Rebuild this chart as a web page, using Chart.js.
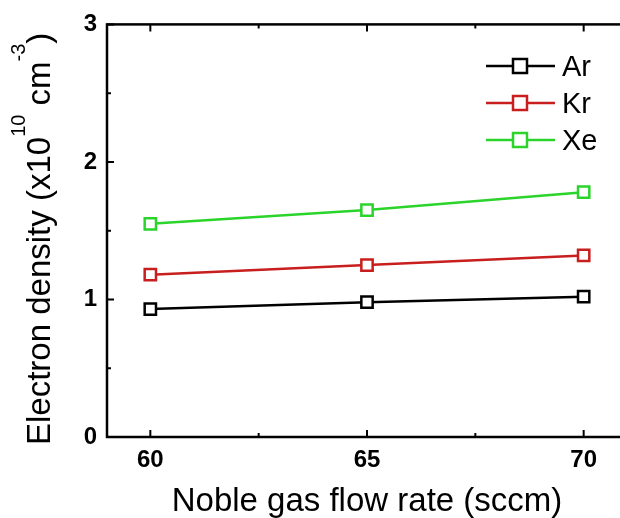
<!DOCTYPE html>
<html>
<head>
<meta charset="utf-8">
<script src="https://cdn.jsdelivr.net/npm/chart.js@4.4.0/dist/chart.umd.min.js"></script>
<style>
    html, body { margin: 0; padding: 0; background: #fff; overflow: hidden; }
    #wrap { width: 640px; height: 518px; }
</style>
</head>
<body>
<div id="wrap"><canvas id="densityChart" width="640" height="518"></canvas></div>
<script>
// Electron density vs noble gas flow rate
const flowRates = [60, 65, 70];
const gasNames = ['Ar', 'Kr', 'Xe'];
const arDensity = [0.93, 0.98, 1.02];
const krDensity = [1.18, 1.25, 1.32];
const xeDensity = [1.55, 1.65, 1.78];
const xTicks = [60, 65, 70];
const xMinorTicks = [62.5, 67.5];
const yTicks = [0, 1, 2, 3];
const yMinorTicks = [0.5, 1.5, 2.5];

const gasColors = ['#000000', '#c81e1e', '#2ad42a'];
const FONT = '"Liberation Sans", Arial, sans-serif';

function toPoints(values) {
    return flowRates.map(function(x, i) { return {x: x, y: values[i]}; });
}

// box round the plot with inward ticks on all four sides
const framePlugin = {
    id: 'frame',
    afterDraw: function(chart) {
        const ctx = chart.ctx;
        const a = chart.chartArea;
        const xs = chart.scales.x;
        const ys = chart.scales.y;
        ctx.save();
        ctx.strokeStyle = '#000';
        ctx.lineWidth = 2.5;
        ctx.strokeRect(a.left, a.top, a.right - a.left, a.bottom - a.top);
        ctx.lineWidth = 2;
        ctx.beginPath();
        function xTick(v, len) {
            const px = xs.getPixelForValue(v);
            ctx.moveTo(px, a.bottom); ctx.lineTo(px, a.bottom - len);
            ctx.moveTo(px, a.top); ctx.lineTo(px, a.top + len);
        }
        function yTick(v, len) {
            const py = ys.getPixelForValue(v);
            ctx.moveTo(a.left, py); ctx.lineTo(a.left + len, py);
            ctx.moveTo(a.right, py); ctx.lineTo(a.right - len, py);
        }
        xTicks.forEach(function(v) { xTick(v, 7); });
        xMinorTicks.forEach(function(v) { xTick(v, 4); });
        yTicks.forEach(function(v) { yTick(v, 7); });
        yMinorTicks.forEach(function(v) { yTick(v, 4); });
        ctx.stroke();
        ctx.restore();
    }
};

// axis titles (y title needs real superscripts)
const titlePlugin = {
    id: 'axisTitles',
    afterDraw: function(chart) {
        const ctx = chart.ctx;
        const a = chart.chartArea;
        ctx.save();
        ctx.fillStyle = '#000';
        ctx.textBaseline = 'alphabetic';

        ctx.font = '33px ' + FONT;
        ctx.textAlign = 'center';
        ctx.fillText('Noble gas flow rate (sccm)', (a.left + a.right) / 2, 511);

        ctx.translate(50, 445);
        ctx.rotate(-Math.PI / 2);
        ctx.textAlign = 'left';
        const parts = [
            ['Electron density (x10', 33, 0],
            ['10', 20, -25],
            [' cm', 33, 0],
            ['-3', 20, -25],
            [')', 33, 0]
        ];
        let pos = 0;
        parts.forEach(function(p) {
            ctx.font = p[1] + 'px ' + FONT;
            ctx.fillText(p[0], pos, p[2]);
            pos += ctx.measureText(p[0]).width;
        });
        ctx.restore();
    }
};

// legend drawn as line + hollow square + name
const legendPlugin = {
    id: 'lineLegend',
    afterDraw: function(chart) {
        const ctx = chart.ctx;
        ctx.save();
        chart.data.datasets.forEach(function(ds, i) {
            const cy = 66 + i * 37;
            ctx.strokeStyle = ds.borderColor;
            ctx.lineWidth = 2.5;
            ctx.beginPath();
            ctx.moveTo(486, cy); ctx.lineTo(555, cy);
            ctx.stroke();
            ctx.fillStyle = '#fff';
            ctx.fillRect(513, cy - 7, 14, 14);
            ctx.strokeRect(513, cy - 7, 14, 14);
            ctx.fillStyle = '#000';
            ctx.font = '29px ' + FONT;
            ctx.textAlign = 'left';
            ctx.textBaseline = 'alphabetic';
            ctx.fillText(ds.label, 562, cy + 10);
        });
        ctx.restore();
    }
};

const seriesValues = [arDensity, krDensity, xeDensity];

new Chart(document.getElementById('densityChart').getContext('2d'), {
    type: 'line',
    data: {
        datasets: gasNames.map(function(name, i) {
            return {
                label: name,
                data: toPoints(seriesValues[i]),
                borderColor: gasColors[i],
                borderWidth: 2.5,
                pointStyle: 'rect',
                pointRadius: 8,
                pointBorderWidth: 2.5,
                pointBorderColor: gasColors[i],
                pointBackgroundColor: '#fff',
                tension: 0
            };
        })
    },
    options: {
        responsive: false,
        animation: false,
        layout: {
            padding: { top: 24, right: 13, left: 0, bottom: 0 }
        },
        plugins: {
            legend: { display: false },
            tooltip: { enabled: false }
        },
        scales: {
            x: {
                type: 'linear',
                min: 59,
                max: 71,
                afterBuildTicks: function(scale) {
                    scale.ticks = xTicks.map(function(v) { return {value: v}; });
                },
                afterFit: function(scale) { scale.height = 81; },
                grid: { display: false, drawTicks: false },
                border: { display: false },
                ticks: {
                    color: '#000',
                    padding: 9,
                    maxRotation: 0,
                    font: { family: FONT, size: 24, weight: 'bold' }
                }
            },
            y: {
                min: 0,
                max: 3,
                afterBuildTicks: function(scale) {
                    scale.ticks = yTicks.map(function(v) { return {value: v}; });
                },
                afterFit: function(scale) { scale.width = 107; },
                grid: { display: false, drawTicks: false },
                border: { display: false },
                ticks: {
                    color: '#000',
                    padding: 10,
                    font: { family: FONT, size: 24, weight: 'bold' }
                }
            }
        }
    },
    plugins: [framePlugin, titlePlugin, legendPlugin]
});
</script>
</body>
</html>
